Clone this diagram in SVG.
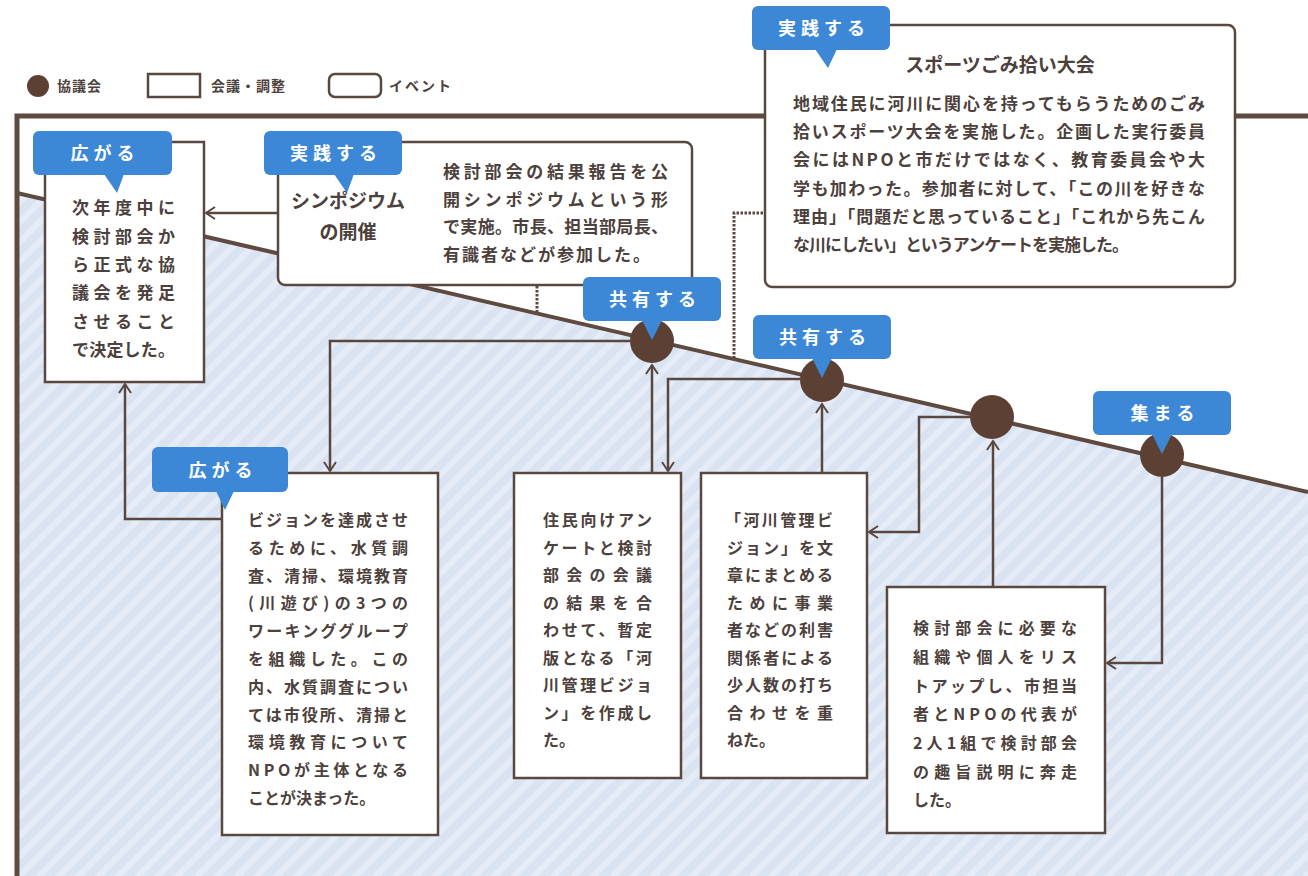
<svg xmlns="http://www.w3.org/2000/svg" width="1308" height="876" viewBox="0 0 1308 876">
<defs>
<pattern id="stripes" width="14" height="14" patternUnits="userSpaceOnUse" patternTransform="rotate(-45)">
<rect width="14" height="14" fill="#d9e3f2"/>
<rect width="14" height="6" fill="#e5ecf7"/>
</pattern>
<marker id="arr" viewBox="-11 -8 13 16" markerWidth="13" markerHeight="16" refX="0" refY="0" orient="auto" markerUnits="userSpaceOnUse">
<path d="M-9,-6 L0,0 L-9,6" fill="none" stroke="#5a4840" stroke-width="2"/>
</marker>
</defs>
<style>
.frame{fill:none;stroke:#5e4a3f;stroke-width:5}
.diag{stroke:#5e4a3f;stroke-width:4}
.box{fill:#fff;stroke:#5a4840;stroke-width:2.5}
.conn{fill:none;stroke:#5a4840;stroke-width:2.5}
.dot{fill:none;stroke:#5a4840;stroke-width:3;stroke-dasharray:2.5 1.5}
.circ{fill:#5c4034}
.tag{fill:#3c87d6}
.tagt{fill:#fff;font-family:"Noto Sans CJK JP",sans-serif;font-weight:bold;font-size:18px;letter-spacing:5px;text-anchor:middle}
.t{fill:#4c413c;font-family:"Noto Sans CJK JP",sans-serif;font-weight:bold;font-size:16px}
.t17{fill:#4c413c;font-family:"Noto Sans CJK JP",sans-serif;font-weight:bold;font-size:17px}
.ttl{fill:#4c413c;font-family:"Noto Sans CJK JP",sans-serif;font-weight:bold;font-size:19px;text-anchor:middle}
.lg{fill:#4c413c;font-family:"Noto Sans CJK JP",sans-serif;font-weight:bold;font-size:14px}
</style>
<rect width="1308" height="876" fill="#fff"/>

<g id="legend">
<circle cx="38" cy="86" r="11" class="circ"/>
<text x="57" y="91" class="lg" letter-spacing="1">協議会</text>
<rect x="148" y="74" width="52" height="23" fill="#fff" stroke="#5a4840" stroke-width="2.5"/>
<text x="211" y="91" class="lg" letter-spacing="1">会議・調整</text>
<rect x="329" y="74" width="52" height="23" rx="6" fill="#fff" stroke="#5a4840" stroke-width="2.5"/>
<text x="389" y="91" class="lg" letter-spacing="2">イベント</text>
</g>

<g id="background">
<polygon points="17,193 1308,492 1308,876 17,876" fill="url(#stripes)"/>
<path class="frame" d="M17,876 L17,116 L1308,116"/>
<line class="diag" x1="17" y1="193" x2="1308" y2="492"/>
</g>

<g id="connectors">
<path class="conn" d="M278,213 L206,213" marker-end="url(#arr)"/>
<path class="conn" d="M222,519 L125,519 L125,384" marker-end="url(#arr)"/>
<path class="conn" d="M630,341 L330,341 L330,471" marker-end="url(#arr)"/>
<path class="conn" d="M652,473 L652,365" marker-end="url(#arr)"/>
<path class="conn" d="M800,379 L668,379 L668,471" marker-end="url(#arr)"/>
<path class="conn" d="M822,473 L822,404" marker-end="url(#arr)"/>
<path class="conn" d="M970,417 L919,417 L919,532 L869,532" marker-end="url(#arr)"/>
<path class="conn" d="M993,587 L993,441" marker-end="url(#arr)"/>
<path class="conn" d="M1162,477 L1162,663 L1107,663" marker-end="url(#arr)"/>
<path class="dot" d="M537,286 L537,313"/>
<path class="dot" d="M763,213 L734,213 L734,358"/>
</g>

<g id="council1"><circle cx="652" cy="341" r="22" class="circ"/></g>
<g id="council2"><circle cx="822" cy="380" r="22" class="circ"/></g>
<g id="council3"><circle cx="992" cy="417" r="22" class="circ"/></g>
<g id="council4"><circle cx="1162" cy="455" r="22" class="circ"/></g>

<g id="boxA">
<rect x="45" y="142" width="159" height="240" class="box"/>
<text class="t17" x="72" y="214" textLength="103" lengthAdjust="spacing">次年度中に</text>
<text class="t17" x="72" y="243" textLength="103" lengthAdjust="spacing">検討部会か</text>
<text class="t17" x="72" y="271" textLength="103" lengthAdjust="spacing">ら正式な協</text>
<text class="t17" x="72" y="299" textLength="103" lengthAdjust="spacing">議会を発足</text>
<text class="t17" x="72" y="328" textLength="103" lengthAdjust="spacing">させること</text>
<text class="t17" x="72" y="356" textLength="103" lengthAdjust="spacing">で決定した。</text>
</g>

<g id="symposium">
<rect x="278" y="142" width="414" height="143" rx="7" class="box"/>
<text class="ttl" x="348" y="208">シンポジウム</text>
<text class="ttl" x="348" y="239">の開催</text>
<text class="t17" x="443" y="178" textLength="225" lengthAdjust="spacing">検討部会の結果報告を公</text>
<text class="t17" x="443" y="206" textLength="225" lengthAdjust="spacing">開シンポジウムという形</text>
<text class="t17" x="443" y="233" textLength="225" lengthAdjust="spacing">で実施。市長、担当部局長、</text>
<text class="t17" x="443" y="261" textLength="207" lengthAdjust="spacing">有識者などが参加した。</text>
</g>

<g id="event">
<rect x="765" y="25" width="470" height="262" rx="7" class="box"/>
<text class="ttl" x="1000" y="72">スポーツごみ拾い大会</text>
<text class="t17" x="793" y="110" textLength="412" lengthAdjust="spacing">地域住民に河川に関心を持ってもらうためのごみ</text>
<text class="t17" x="793" y="138" textLength="412" lengthAdjust="spacing">拾いスポーツ大会を実施した。企画した実行委員</text>
<text class="t17" x="793" y="166" textLength="412" lengthAdjust="spacing">会にはNPOと市だけではなく、教育委員会や大</text>
<text class="t17" x="793" y="195" textLength="412" lengthAdjust="spacing">学も加わった。参加者に対して、「この川を好きな</text>
<text class="t17" x="793" y="223" textLength="412" lengthAdjust="spacing">理由」「問題だと思っていること」「これから先こん</text>
<text class="t17" x="793" y="251" textLength="336" lengthAdjust="spacing">な川にしたい」というアンケートを実施した。</text>
</g>

<g id="boxD">
<rect x="222" y="473" width="216" height="362" class="box"/>
<text class="t" x="248" y="526" textLength="160" lengthAdjust="spacing">ビジョンを達成させ</text>
<text class="t" x="248" y="554" textLength="160" lengthAdjust="spacing">るために、水質調</text>
<text class="t" x="248" y="582" textLength="160" lengthAdjust="spacing">査、清掃、環境教育</text>
<text class="t" x="248" y="609" textLength="160" lengthAdjust="spacing">(川遊び)の3つの</text>
<text class="t" x="248" y="637" textLength="160" lengthAdjust="spacing">ワーキンググループ</text>
<text class="t" x="248" y="665" textLength="160" lengthAdjust="spacing">を組織した。この</text>
<text class="t" x="248" y="693" textLength="160" lengthAdjust="spacing">内、水質調査につい</text>
<text class="t" x="248" y="721" textLength="160" lengthAdjust="spacing">ては市役所、清掃と</text>
<text class="t" x="248" y="748" textLength="160" lengthAdjust="spacing">環境教育について</text>
<text class="t" x="248" y="776" textLength="160" lengthAdjust="spacing">NPOが主体となる</text>
<text class="t" x="248" y="804">ことが決まった。</text>
</g>

<g id="boxE">
<rect x="514" y="473" width="167" height="305" class="box"/>
<text class="t" x="543" y="526" textLength="109" lengthAdjust="spacing">住民向けアン</text>
<text class="t" x="543" y="554" textLength="109" lengthAdjust="spacing">ケートと検討</text>
<text class="t" x="543" y="581" textLength="109" lengthAdjust="spacing">部会の会議</text>
<text class="t" x="543" y="609" textLength="109" lengthAdjust="spacing">の結果を合</text>
<text class="t" x="543" y="636" textLength="109" lengthAdjust="spacing">わせて、暫定</text>
<text class="t" x="543" y="664" textLength="109" lengthAdjust="spacing">版となる「河</text>
<text class="t" x="543" y="691" textLength="109" lengthAdjust="spacing">川管理ビジョ</text>
<text class="t" x="543" y="719" textLength="109" lengthAdjust="spacing">ン」を作成し</text>
<text class="t" x="543" y="746">た。</text>
</g>

<g id="boxF">
<rect x="701" y="473" width="166" height="305" class="box"/>
<text class="t" x="725" y="526" textLength="108" lengthAdjust="spacing">「河川管理ビ</text>
<text class="t" x="727" y="554" textLength="106" lengthAdjust="spacing">ジョン」を文</text>
<text class="t" x="727" y="581" textLength="106" lengthAdjust="spacing">章にまとめる</text>
<text class="t" x="727" y="609" textLength="106" lengthAdjust="spacing">ために事業</text>
<text class="t" x="727" y="636" textLength="106" lengthAdjust="spacing">者などの利害</text>
<text class="t" x="727" y="664" textLength="106" lengthAdjust="spacing">関係者による</text>
<text class="t" x="727" y="691" textLength="106" lengthAdjust="spacing">少人数の打ち</text>
<text class="t" x="727" y="719" textLength="106" lengthAdjust="spacing">合わせを重</text>
<text class="t" x="727" y="746">ねた。</text>
</g>

<g id="boxG">
<rect x="887" y="587" width="218" height="246" class="box"/>
<text class="t" x="913" y="634" textLength="164" lengthAdjust="spacing">検討部会に必要な</text>
<text class="t" x="913" y="663" textLength="164" lengthAdjust="spacing">組織や個人をリス</text>
<text class="t" x="913" y="692" textLength="164" lengthAdjust="spacing">トアップし、市担当</text>
<text class="t" x="913" y="720" textLength="164" lengthAdjust="spacing">者とNPOの代表が</text>
<text class="t" x="913" y="749" textLength="164" lengthAdjust="spacing">2人1組で検討部会</text>
<text class="t" x="913" y="778" textLength="164" lengthAdjust="spacing">の趣旨説明に奔走</text>
<text class="t" x="913" y="806">した。</text>
</g>

<g id="tag1">
<rect x="33" y="131" width="139" height="44" rx="6" class="tag"/>
<polygon points="104,174 124,174 117,193" class="tag"/>
<text x="105" y="160" class="tagt">広がる</text>
</g>
<g id="tag2">
<rect x="264" y="131" width="138" height="44" rx="6" class="tag"/>
<polygon points="334,174 354,174 347,193" class="tag"/>
<text x="336" y="160" class="tagt">実践する</text>
</g>
<g id="tag3">
<rect x="752" y="6" width="138" height="44" rx="6" class="tag"/>
<polygon points="815,49 837,49 828,68" class="tag"/>
<text x="824" y="35" class="tagt">実践する</text>
</g>
<g id="tag4">
<rect x="583" y="277" width="138" height="44" rx="6" class="tag"/>
<polygon points="642,320 662,320 652,340" class="tag"/>
<text x="655" y="306" class="tagt">共有する</text>
</g>
<g id="tag5">
<rect x="753" y="315" width="138" height="44" rx="6" class="tag"/>
<polygon points="812,358 832,358 822,378" class="tag"/>
<text x="825" y="344" class="tagt">共有する</text>
</g>
<g id="tag6">
<rect x="1093" y="391" width="138" height="44" rx="6" class="tag"/>
<polygon points="1152,434 1172,434 1162,454" class="tag"/>
<text x="1165" y="420" class="tagt">集まる</text>
</g>
<g id="tag7">
<rect x="152" y="447" width="136" height="45" rx="6" class="tag"/>
<polygon points="216,491 234,491 225,510" class="tag"/>
<text x="223" y="477" class="tagt">広がる</text>
</g>
</svg>
